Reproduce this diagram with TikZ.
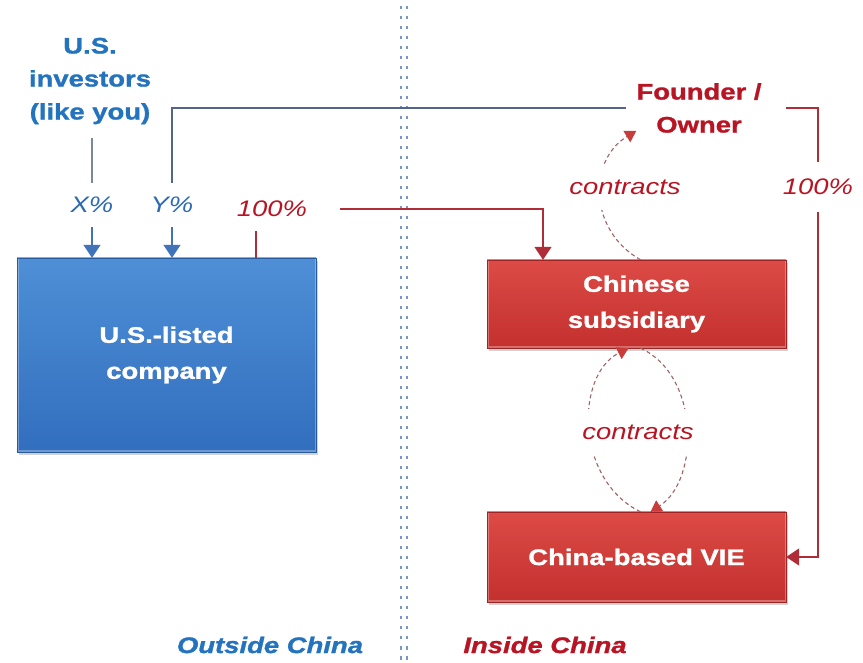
\documentclass[tikz,border=0pt]{standalone}
\usepackage{fontspec}
\setmainfont{Liberation Sans}[FakeStretch=1.22,
  BoldFeatures={FakeBold=1.2}, BoldItalicFeatures={FakeBold=1.2}]
\usetikzlibrary{arrows.meta,shadows}
\tikzset{>={Triangle[width=17pt,length=13pt]}}

\definecolor{usblue}{RGB}{35,115,190}
\definecolor{pctblue}{RGB}{45,105,175}
\definecolor{ownred}{RGB}{185,20,35}
\definecolor{linered}{RGB}{175,45,55}
\definecolor{linegray}{RGB}{85,100,140}
\definecolor{invgray}{RGB}{125,135,155}
\definecolor{arrowblue}{RGB}{65,115,185}
\definecolor{divblue}{RGB}{120,150,200}
\definecolor{dashred}{RGB}{160,100,100}
\definecolor{tipred}{RGB}{200,60,60}

\tikzset{
  company/.style={minimum width=299pt, text width=280pt, align=center, inner sep=0pt,
    text=white, font=\fontsize{22.5}{36}\selectfont\bfseries,
    drop shadow={shadow xshift=2pt, shadow yshift=-3pt, opacity=0.35},
    path picture={\draw[white, opacity=0.3, line width=3pt]
      (path picture bounding box.north west) rectangle (path picture bounding box.south east);}},
  bluebox/.style={company, top color={rgb,255:red,78;green,143;blue,214},
    bottom color={rgb,255:red,50;green,110;blue,190}, draw={rgb,255:red,40;green,90;blue,160}},
  redbox/.style={company, top color={rgb,255:red,220;green,75;blue,70},
    bottom color={rgb,255:red,195;green,48;blue,46}, draw={rgb,255:red,160;green,35;blue,35}},
  who/.style={align=center, font=\fontsize{22.5}{33}\selectfont\bfseries, inner xsep=10pt, inner ysep=6pt},
  pct/.style={font=\fontsize{22.5}{27}\selectfont\itshape, minimum height=44pt, inner sep=0pt},
  clab/.style={font=\fontsize{22.5}{27}\selectfont\itshape, text=ownred, fill=white,
    minimum height=46pt, inner xsep=2pt},
  region/.style={font=\fontsize{22.5}{27}\selectfont\bfseries\itshape},
  divider/.style={draw=divblue, line width=2.2pt, dash pattern=on 3.5pt off 6.5pt},
  invline/.style={draw=invgray, line width=1.2pt},
  bluearrow/.style={draw=arrowblue, line width=1.2pt},
  ownline/.style={draw=linegray, line width=1.2pt},
  redline/.style={draw=linered, line width=1.2pt},
  cline/.style={draw=dashred, line width=1.1pt, dash pattern=on 4pt off 3pt,
    -{Triangle[width=13pt,length=11pt,color=tipred]}}
}

\begin{document}
\begin{tikzpicture}[x=1pt,y=1pt]
  \useasboundingbox[fill=white] (0,0) rectangle (863,662);

  % border line
  \draw[divider] (401,656) -- (401,0);
  \draw[divider] (407,656) -- (407,0);

  \node[bluebox, minimum height=194pt] (usco) at (166.5,307) {U.S.-listed\\company};
  \node[redbox, minimum height=88pt] (sub) at (636.5,358) {Chinese\\subsidiary};
  \node[redbox, minimum height=90pt] (vie) at (636.5,105) {China-based VIE};

  \node[who, text=usblue] (investors) at (90,581) {U.S.\\investors\\(like you)};
  \node[who, text=ownred] (founder) at (699,554) {Founder /\\Owner};

  \node[pct, text=pctblue] (xlab) at (92,457) {X\%};
  \node[pct, text=pctblue] (ylab) at (172,457) {Y\%};
  \node[pct, text=ownred, minimum width=136pt] (lab100) at (272,453) {100\%};
  \node[pct, text=ownred, minimum height=50pt] (rlab) at (818,475) {100\%};
  \coordinate (c100) at (256,453);

  % ownership
  \draw[invline, shorten <=8pt] (investors.south -| xlab) -- (xlab.north);
  \draw[bluearrow, ->] (xlab.south) -- (xlab.south |- usco.north);
  \draw[ownline] (ylab.north) |- (founder.west);
  \draw[bluearrow, ->] (ylab.south) -- (ylab.south |- usco.north);
  \draw[redline] (usco.north -| c100) -- (lab100.south -| c100);
  \draw[redline, ->] (lab100.east) -| ([xshift=-93.5pt]sub.north);
  \draw[redline, shorten <=14pt] (founder.east) -| (rlab.north);
  \draw[redline, ->] (rlab.south) |- (vie.east);

  % contracts
  \draw[cline] ([xshift=4pt]sub.north) .. controls (588,432) and (588,502) .. ([shift={(10pt,8pt)}]founder.south west);
  \node[clab] (ctop) at (625,475) {contracts};
  \draw[cline] ([xshift=4pt]vie.north) .. controls (575,182) and (575,287) .. ([xshift=-8pt]sub.south);
  \draw[cline] ([xshift=4pt]sub.south) .. controls (700,287) and (700,182) .. ([xshift=14pt]vie.north);
  \node[clab] (cmid) at (638,230) {contracts};

  \node[region, text=usblue] (outside) at (270,17) {Outside China};
  \node[region, text=ownred] (inside) at (545,17) {Inside China};
\end{tikzpicture}
\end{document}
